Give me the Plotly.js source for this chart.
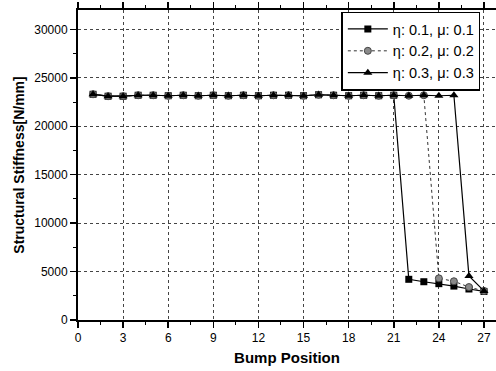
<!DOCTYPE html>
<html>
<head>
<meta charset="utf-8">
<script src="https://cdn.plot.ly/plotly-3.0.1.min.js"></script>
<style>html,body{margin:0;padding:0;background:#fff;}#chart{width:496px;height:371px;}</style>
</head>
<body>
<div id="chart"></div>
<script>
// Data
var positions = [1,2,3,4,5,6,7,8,9,10,11,12,13,14,15,16,17,18,19,20,21,22,23,24,25,26,27];
var stiff_eta01 = [23300,23100,23100,23200,23200,23150,23200,23150,23200,23150,23200,23150,23200,23200,23150,23250,23200,23150,23200,23150,23200,4200,3950,3750,3500,3200,2950];
var stiff_eta02 = [23300,23100,23100,23200,23200,23150,23200,23150,23200,23150,23200,23150,23200,23200,23150,23250,23200,23150,23200,23150,23200,23150,23200,4300,4000,3400,3000];
var stiff_eta03 = [23300,23100,23100,23200,23200,23150,23200,23150,23200,23150,23200,23150,23200,23200,23150,23250,23200,23150,23200,23150,23200,23150,23200,23150,23200,4550,3000];
var seriesNames = ['η: 0.1, μ: 0.1', 'η: 0.2, μ: 0.2', 'η: 0.3, μ: 0.3'];
var xTickVals = [0,3,6,9,12,15,18,21,24,27];
var yTickVals = [0,5000,10000,15000,20000,25000,30000];
var yTickText = ['0','5000','10000','15000','20000','25000','30000'];

var traces = [
  {x: positions, y: stiff_eta01, name: seriesNames[0], type: 'scatter', mode: 'lines+markers',
   line: {color: '#000', width: 1.2},
   marker: {symbol: 'square', size: 7, color: '#000'}},
  {x: positions, y: stiff_eta02, name: seriesNames[1], type: 'scatter', mode: 'lines+markers',
   line: {color: '#333', width: 1, dash: 'dot'},
   marker: {symbol: 'circle', size: 7, color: '#8a8a8a', line: {color: '#444', width: 1}}},
  {x: positions, y: stiff_eta03, name: seriesNames[2], type: 'scatter', mode: 'lines+markers',
   line: {color: '#000', width: 1.2},
   marker: {symbol: 'triangle-up', size: 8, color: '#000'}}
];

var fontFam = 'Liberation Sans, Arial, sans-serif';
var layout = {
  width: 496, height: 371,
  margin: {l: 78, r: 0, t: 10, b: 51},
  paper_bgcolor: '#fff', plot_bgcolor: '#fff',
  font: {family: fontFam, color: '#000'},
  showlegend: true,
  legend: {x: 0.63, y: 0.995, xanchor: 'left', yanchor: 'top',
           bgcolor: '#fff', bordercolor: '#000', borderwidth: 1.5,
           font: {family: fontFam, size: 14.5, color: '#000'},
           itemwidth: 40, tracegroupgap: 0},
  xaxis: {
    range: [0, 27.8], tickmode: 'array', tickvals: xTickVals,
    ticks: 'outside', ticklen: 6, tickwidth: 1.5, tickcolor: '#000',
    showline: true, linecolor: '#000', linewidth: 2, mirror: 'ticks',
    showgrid: true, gridcolor: '#444', griddash: 'dot', gridwidth: 1,
    zeroline: false,
    tickfont: {family: fontFam, size: 12, color: '#000'},
    minor: {ticks: 'outside', ticklen: 3, tickwidth: 1, tickcolor: '#000', dtick: 1.5, tick0: 0, showgrid: false},
    title: {text: '<b>Bump Position</b>', font: {family: fontFam, size: 15, color: '#000'}, standoff: 8}
  },
  yaxis: {
    range: [0, 32000], tickmode: 'array', tickvals: yTickVals, ticktext: yTickText,
    ticks: 'outside', ticklen: 6, tickwidth: 1.5, tickcolor: '#000',
    showline: true, linecolor: '#000', linewidth: 2, mirror: 'ticks',
    showgrid: true, gridcolor: '#444', griddash: 'dot', gridwidth: 1,
    zeroline: false,
    tickfont: {family: fontFam, size: 12, color: '#000'},
    minor: {ticks: 'outside', ticklen: 3, tickwidth: 1, tickcolor: '#000', dtick: 2500, tick0: 0, showgrid: false},
    title: {text: '<b>Structural Stiffness[N/mm]</b>', font: {family: fontFam, size: 14, color: '#000'}, standoff: 6}
  }
};

Plotly.newPlot('chart', traces, layout, {displayModeBar: false, staticPlot: true});
</script>
</body>
</html>
